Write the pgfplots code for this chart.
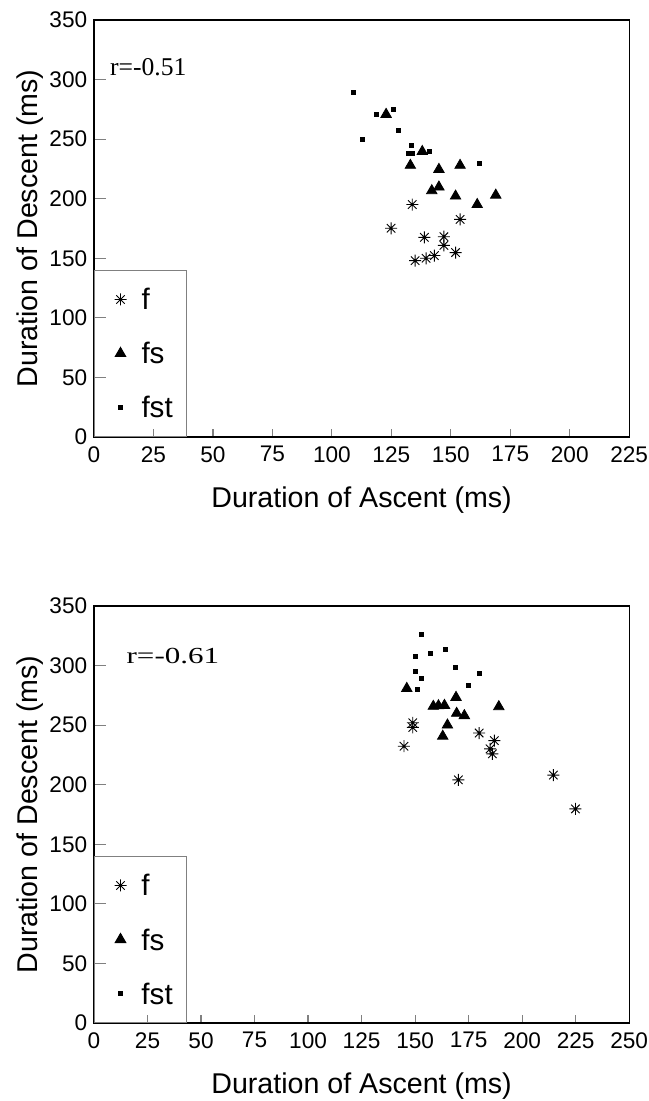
\documentclass[border=0pt]{standalone}
\usepackage{fontspec}
\setmainfont{Liberation Sans}
\newfontfamily\rfont{Liberation Serif}
\usepackage{pgfplots}
\pgfplotsset{compat=1.18}

% eight-armed asterisk, as in the source figure
\pgfdeclareplotmark{ast8}{%
  \pgfpathmoveto{\pgfqpoint{0pt}{\pgfplotmarksize}}%
  \pgfpathlineto{\pgfqpoint{0pt}{-\pgfplotmarksize}}%
  \pgfpathmoveto{\pgfqpoint{\pgfplotmarksize}{0pt}}%
  \pgfpathlineto{\pgfqpoint{-\pgfplotmarksize}{0pt}}%
  \pgfpathmoveto{\pgfqpoint{0.707\pgfplotmarksize}{0.707\pgfplotmarksize}}%
  \pgfpathlineto{\pgfqpoint{-0.707\pgfplotmarksize}{-0.707\pgfplotmarksize}}%
  \pgfpathmoveto{\pgfqpoint{-0.707\pgfplotmarksize}{0.707\pgfplotmarksize}}%
  \pgfpathlineto{\pgfqpoint{0.707\pgfplotmarksize}{-0.707\pgfplotmarksize}}%
  \pgfusepathqstroke}

\pgfplotsset{
  durax/.style={
    scale only axis, width=267.6pt, height=208.5pt,
    ymin=0, ymax=350, ytick={0,50,...,350},
    axis line style={line width=0.6pt},
    tick align=inside, tick pos=left,
    xtick style={line width=0.6pt, /pgfplots/major tick length=4pt},
    ytick style={line width=0.6pt, /pgfplots/major tick length=6pt},
    tick label style={font=\fontsize{11.3}{13}\selectfont},
    /pgf/number format/assume math mode=true,
    xticklabel style={anchor=north, inner sep=0pt, yshift=-4.5pt},
    yticklabel style={anchor=east, inner sep=0pt, xshift=-3.2pt},
    label style={font=\fontsize{14.3}{16}\selectfont},
    xlabel={Duration of Ascent (ms)},
    ylabel={Duration of Descent (ms)},
    xlabel style={at={(axis description cs:0.5,-0.151)}, anchor=center},
    ylabel style={at={(axis description cs:-0.1196,0.5)}, anchor=center},
    legend cell align=left,
    legend style={at={(0,0)}, anchor=south west, draw=gray, line width=0.5pt,
      fill=none, font=\fontsize{14.8}{16}\selectfont,
      inner xsep=6.75pt, inner ysep=9.25pt, row sep=16.5pt, column sep=4.25pt,
      nodes={inner sep=0pt, text height=10.5pt, text depth=0pt}},
    legend image code/.code={\path (-6pt,0pt) (6pt,0pt);
      \draw[#1] plot coordinates {(0pt,0pt)};},
  },
  fmark/.style={only marks, mark=ast8, mark size=3pt, line width=0.45pt, black},
  fsmark/.style={only marks, mark=triangle*, mark size=3pt, black},
  fstmark/.style={only marks, mark=square*, mark size=1pt, black},
}

\begin{document}
\begin{tikzpicture}
\useasboundingbox (-47pt,-39pt) rectangle (277pt,511.5pt);

% upper panel
\begin{axis}[durax, at={(0,293pt)}, anchor=south west,
  xmin=0, xmax=225, xtick={0,25,...,225}]
\addplot[fmark] coordinates {
  (133.8,195.1) (124.9,175.2) (153.9,182.6) (138.9,167.6) (147.1,168.1)
  (147.1,160.8) (135.0,148.0) (139.6,150.0) (143.1,152.3) (152.0,154.8)};
\addplot[fsmark] coordinates {
  (122.8,270.8) (138.0,239.6) (133.0,228.0) (145.0,224.6) (153.9,228.0)
  (142.0,206.7) (145.0,209.8) (152.0,202.2) (161.1,195.1) (168.9,203.0)};
\addplot[fstmark] coordinates {
  (109.0,288.9) (118.9,271.0) (125.8,275.3) (112.9,250.1) (128.1,257.7)
  (133.3,245.0) (132.1,237.9) (133.8,237.9) (140.8,239.3) (162.0,229.9)};
\legend{f,fs,fst}
\node[anchor=west, inner sep=0pt, font=\rfont\fontsize{12.8}{14}\selectfont]
  at (axis cs:6.6,310.5) {r=-0.51};
\end{axis}

% lower panel
\begin{axis}[durax, at={(0,0)}, anchor=south west,
  xmin=0, xmax=250, xtick={0,25,...,250}]
\addplot[fmark] coordinates {
  (148.9,252.0) (148.9,248.1) (144.8,232.3) (179.9,243.4) (187.0,237.0)
  (185.0,230.1) (186.1,225.9) (170.2,204.1) (214.6,208.1) (224.9,179.7)};
\addplot[fsmark] coordinates {
  (146.1,280.8) (158.5,265.8) (160.9,266.3) (163.7,266.6) (169.1,273.3)
  (169.4,259.9) (173.0,258.0) (165.1,250.1) (162.9,240.7) (189.1,265.5)};
\addplot[fstmark] coordinates {
  (153.1,326.3) (150.0,307.6) (157.0,310.1) (164.0,313.5) (150.0,295.3)
  (169.0,298.1) (179.9,293.4) (153.1,289.2) (151.2,280.0) (175.0,283.3)};
\legend{f,fs,fst}
\node[anchor=west, inner sep=0pt, font=\rfont\fontsize{11.5}{13}\selectfont, xscale=1.35]
  at (axis cs:15.0,308.1) {r=-0.61};
\end{axis}
\end{tikzpicture}
\end{document}
